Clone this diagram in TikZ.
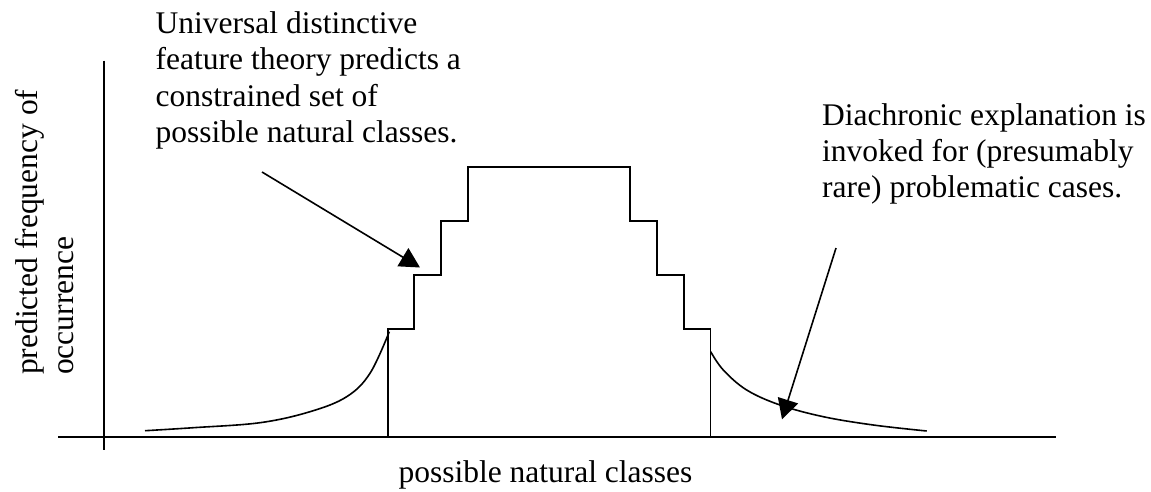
\documentclass[tikz,border=0pt]{standalone}
\usepackage{fontspec}
\setmainfont{Liberation Serif}
\usetikzlibrary{arrows.meta}
\begin{document}
\begin{tikzpicture}[x=1pt,y=-1pt,
  axis/.style={line width=1.8pt},
  outline/.style={line width=1.8pt, line join=miter},
  trend/.style={line width=1.6pt},
  pointer/.style={line width=1.6pt, -{Triangle[length=20pt,width=21pt]}},
  txt/.style={anchor=base west, inner sep=0pt, font=\fontsize{31.5}{36.3}\selectfont}]
\useasboundingbox (0,0) rectangle (1151,491);

% axes
\coordinate (xl) at (58.3,436.7);
\coordinate (xr) at (1056,436.7);
\coordinate (yt) at (104.3,60.7);
\coordinate (yb) at (104.3,450);
\draw[axis] (xl) -- (xr);
\draw[axis] (yt) -- (yb);

% stepped block of predicted classes
\draw[outline] (387.7,436.7) -- (387.7,329) -- (414.3,329) -- (414.3,275.3)
  -- (441.3,275.3) -- (441.3,221) -- (468.3,221) -- (468.3,167.3)
  -- (630,167.3) -- (630,221) -- (657,221) -- (657,275.3)
  -- (683.7,275.3) -- (683.7,329) -- (710.5,329) -- (710.5,436.7) -- cycle;

% tails
\draw[trend] plot[smooth, tension=0.6] coordinates {
  (145,430.7) (193.3,427.7) (260,422.7) (310,411.7) (346.7,396.7) (370,373.3) (389.3,331.7)};
\draw[trend] plot[smooth, tension=0.6] coordinates {
  (710.7,351.7) (723.3,370) (746.7,390) (780,405) (823.3,416.7) (873.3,425) (926.7,431)};

% labels
\node[txt] (theory) at (155.5,33.5) {\begin{tabular}[t]{@{}l@{}}Universal distinctive\\
  feature theory predicts a\\ constrained set of\\ possible natural classes.\end{tabular}};
\node[txt] (diachr) at (822,125) {\begin{tabular}[t]{@{}l@{}}Diachronic explanation is\\
  invoked for (presumably\\ rare) problematic cases.\end{tabular}};
\node[txt, rotate=90] (ylab) at (37.5,375) {\begin{tabular}[t]{@{}l@{}}predicted frequency of\\ occurrence\end{tabular}};
\node[txt] (xlab) at (398.3,482.7) {possible natural classes};

% pointers
\coordinate (p1s) at (262,172);
\coordinate (p1e) at (420,267.5);
\coordinate (p2s) at (836,248);
\coordinate (p2e) at (782,419.3);
\draw[pointer] (p1s) -- (p1e);
\draw[pointer] (p2s) -- (p2e);
\end{tikzpicture}
\end{document}
